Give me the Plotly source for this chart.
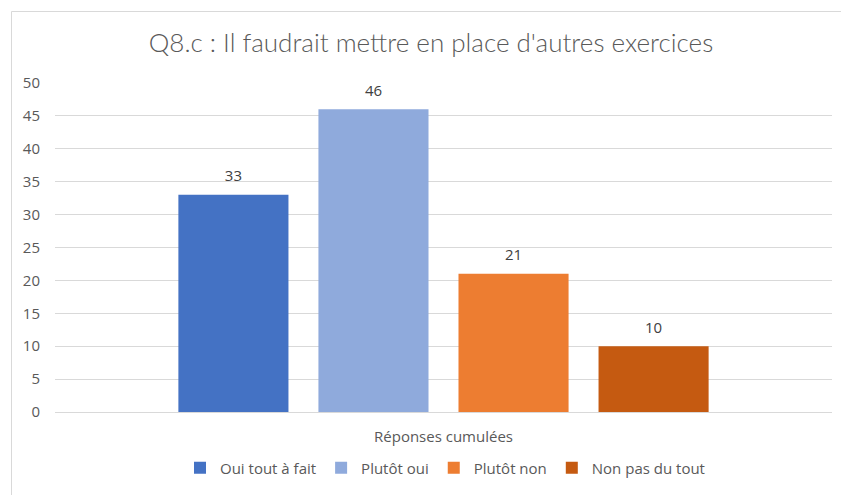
import plotly.graph_objects as go

categories = ["Réponses cumulées"]
series_names = ["Oui tout à fait", "Plutôt oui", "Plutôt non", "Non pas du tout"]
series_values = [33, 46, 21, 10]
colors = ["#4472C4", "#8FAADC", "#ED7D31", "#C55A11"]
y_ticks = [0, 5, 10, 15, 20, 25, 30, 35, 40, 45, 50]

W, H = 841, 495
L, R, T, B = 55, 9, 83, 83
pw, ph = W - L - R, H - T - B

def px_x(p):
    return (p - L) / pw

def px_y(p):
    return (H - B - p) / ph

FONT = "Open Sans, sans-serif"
GAP = 0.279

fig = go.Figure()
for name, val, col in zip(series_names, series_values, colors):
    fig.add_trace(go.Bar(
        x=categories, y=[val], name=name, marker_color=col, marker_line_width=0,
        offsetgroup=name,
    ))
# data labels: text-only scatter traces grouped like the bars
for name, val in zip(series_names, series_values):
    fig.add_trace(go.Scatter(
        x=categories, y=[val], mode="markers+text", text=[str(val)],
        marker=dict(size=14, opacity=0),
        textposition="top center", showlegend=False, hoverinfo="skip",
        offsetgroup=name, cliponaxis=False,
        textfont=dict(family=FONT, size=15, color="#404040"),
    ))

fig.update_layout(
    width=W, height=H,
    margin=dict(l=L, r=R, t=T, b=B, autoexpand=False),
    paper_bgcolor="white", plot_bgcolor="white",
    barmode="group", bargap=GAP, bargroupgap=0.214,
    scattermode="group", scattergap=GAP,
    title=dict(text="Q8.c : Il faudrait mettre en place d'autres exercices",
               x=431 / W, xanchor="center", y=1 - 43 / H, yanchor="middle",
               font=dict(family="Lato, sans-serif", size=26, weight=300, color="#595959")),
    font=dict(family=FONT, size=15, color="#595959"),
    xaxis=dict(showgrid=False, showline=True, linecolor="#d9d9d9", ticks="",
               tickfont=dict(size=15, color="#595959"), ticklabelstandoff=11,
               automargin=False),
    yaxis=dict(range=[0, 50], tickvals=y_ticks, showgrid=True, gridcolor="#d9d9d9",
               zeroline=False, showline=False, ticks="", ticklabelstandoff=14,
               tickfont=dict(size=15, color="#595959"), automargin=False),
    legend=dict(orientation="h", x=445 / W, xanchor="center", xref="container",
                y=1 - 468 / H, yanchor="middle", yref="container",
                font=dict(size=15, color="#595959"), traceorder="normal",
                itemwidth=30),
    showlegend=True,
    shapes=[dict(type="rect", xref="paper", yref="paper",
                 x0=px_x(11.5), x1=px_x(850), y0=px_y(500), y1=px_y(11.5),
                 line=dict(color="#d9d9d9", width=1), fillcolor="rgba(0,0,0,0)", layer="below")],
)

fig.write_html("out.html", config={"displayModeBar": False},
               post_script="document.body.style.margin='0';")
